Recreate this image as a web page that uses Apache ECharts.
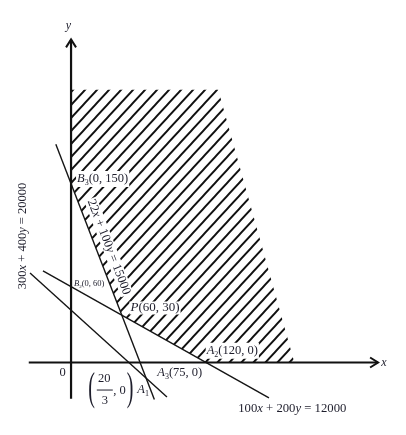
<!DOCTYPE html>
<html>
<head>
<meta charset="utf-8">
<script src="https://cdn.jsdelivr.net/npm/echarts@6/dist/echarts.min.js"></script>
<style>
  html, body { margin: 0; padding: 0; background: #fff; }
  #main { width: 406px; height: 435px; }
</style>
</head>
<body>
<div id="main"></div>
<script>
// the sketch is not to scale: values are chart units as drawn,
// picked so that the origin and P(60, 30) sit where the picture has them

// shaded feasible region, corners in order
var regionX = [0, 174, 264, 159.4, 60, 0];
var regionY = [173, 173, 0, 0, 30, 113.5];

// constraint lines, two ends each
var lineNames = ['22x + 100y = 15000', '100x + 200y = 12000', '300x + 400y = 20000'];
var lineX1 = [-18, -33.2, -48.5];
var lineY1 = [138.5, 58.1, 56.8];
var lineX2 = [98.5, 234, 113.4];
var lineY2 = [-23.5, -22.5, -21.9];

// axes: tail and arrow tip
var axisX1 = [-50, 0];
var axisY1 = [0, -23];
var axisX2 = [363, 0];
var axisY2 = [0, 205];

// texts and where they sit
var labelText = [
  '{i|y}', '{i|x}', '0',
  '{i|B}{s|3}(0, 150)', '{i|B}{s|2}(0, 60)', '{i|P}(60, 30)',
  '{i|A}{s|2}(120, 0)', '{i|A}{s|3}(75, 0)', '{i|A}{s|1}',
  '100{i|x} + 200{i|y} = 12000', '300{i|x} + 400{i|y} = 20000', '22{i|x} + 100{i|y} = 15000'
];
var labelX = [-3, 370, -10.1, 5.9, 3.5, 69.1, 159.2, 102, 78.3, 197.7, -56.8, 44.6];
var labelY = [213.5, 0, -6.7, 116.4, 49.8, 34.6, 7.5, -6.5, -17.4, -29.5, 80.3, 73.3];
var fracText = ['20', '3', ', 0'];
var fracX = 20.4, fracY = -16.2;

var ink = '#1e1e2c';
var serif = '"Liberation Serif", "Times New Roman", serif';
var labelSize = [12, 12, 12.5, 12.5, 8.5, 13, 12.5, 12.5, 12.5, 12.7, 12.5, 12.6];
var labelAlign = ['center', 'center', 'center', 'left', 'left', 'left', 'left', 'left', 'left', 'left', 'center', 'center'];
var labelRot = [0, 0, 0, 0, 0, 0, 0, 0, 0, 0, 90, -68.9];
var labelBg = [0, 0, 0, 1, 0, 1, 1, 0, 0, 0, 0, 1];

function hatchTile() {
  var w = 12, h = 13;
  var c = document.createElement('canvas');
  c.width = w; c.height = h;
  var g = c.getContext('2d');
  g.strokeStyle = '#111';
  g.lineWidth = 1.9;
  g.beginPath();
  for (var k = -1; k <= 1; k++) {
    g.moveTo(k * w - w, 2 * h);
    g.lineTo(k * w + 2 * w, -h);
  }
  g.stroke();
  return c;
}
var tile = hatchTile();

function richFor(size) {
  var sub = Math.round(size * 0.62);
  return {
    i: { fontFamily: serif, fontSize: size, fontStyle: 'italic', fill: ink },
    s: { fontFamily: serif, fontSize: sub, fill: ink, padding: [sub, 0, 0, 0] }
  };
}

var chart = echarts.init(document.getElementById('main'));

var series = [];

series.push({
  type: 'custom', z: 1, silent: true,
  data: [[0, 0]],
  renderItem: function (params, api) {
    var pts = regionX.map(function (x, i) { return api.coord([x, regionY[i]]); });
    return {
      type: 'polygon',
      shape: { points: pts },
      style: { fill: { image: tile, repeat: 'repeat' }, stroke: null }
    };
  }
});

lineNames.forEach(function (name, i) {
  series.push({
    name: name, type: 'line', z: 2, silent: true,
    symbol: 'none',
    lineStyle: { color: '#151515', width: 1.4 },
    data: [[lineX1[i], lineY1[i]], [lineX2[i], lineY2[i]]]
  });
});

series.push({
  type: 'custom', z: 3, silent: true,
  data: axisX1.map(function (x, i) { return [x, axisY1[i], axisX2[i], axisY2[i]]; }),
  encode: { x: [0, 2], y: [1, 3] },
  renderItem: function (params, api) {
    var a = api.coord([api.value(0), api.value(1)]);
    var b = api.coord([api.value(2), api.value(3)]);
    var dx = b[0] - a[0], dy = b[1] - a[1];
    var len = Math.sqrt(dx * dx + dy * dy);
    var ux = dx / len, uy = dy / len;
    var back = 8, half = 5;
    return {
      type: 'group',
      children: [
        { type: 'line', shape: { x1: a[0], y1: a[1], x2: b[0], y2: b[1] },
          style: { stroke: '#111', lineWidth: 2.2 } },
        { type: 'polyline',
          shape: { points: [
            [b[0] - ux * back - uy * half, b[1] - uy * back + ux * half],
            [b[0], b[1]],
            [b[0] - ux * back + uy * half, b[1] - uy * back - ux * half]
          ] },
          style: { stroke: '#111', lineWidth: 2, fill: null } }
      ]
    };
  }
});

series.push({
  type: 'custom', z: 4, silent: true,
  data: labelX.map(function (x, i) { return [x, labelY[i]]; }),
  renderItem: function (params, api) {
    var i = params.dataIndex;
    var p = api.coord([labelX[i], labelY[i]]);
    var size = labelSize[i];
    return {
      type: 'text',
      x: p[0], y: p[1],
      rotation: labelRot[i] * Math.PI / 180,
      style: {
        text: labelText[i],
        rich: richFor(size),
        fontFamily: serif, fontSize: size, fill: ink,
        align: labelAlign[i], verticalAlign: 'middle',
        backgroundColor: labelBg[i] ? '#fff' : null,
        padding: labelBg[i] ? [0, 1] : 0
      }
    };
  }
});

// (20/3, 0) with tall brackets
series.push({
  type: 'custom', z: 4, silent: true,
  data: [[fracX, fracY]],
  renderItem: function (params, api) {
    var p = api.coord([fracX, fracY]);
    var x = p[0], y = p[1];
    function txt(t, dx, dy, size, align, sx) {
      return { type: 'text', x: x + dx, y: y + dy, scaleX: sx || 1,
        style: { text: t, fontFamily: serif, fontSize: size, fill: ink, align: align, verticalAlign: 'middle' } };
    }
    return {
      type: 'group',
      children: [
        txt('(', 0, 1, 40, 'left', 0.5),
        txt(fracText[0], 16, -9, 12.5, 'center'),
        { type: 'line', shape: { x1: x + 8.5, y1: y + 2, x2: x + 24.5, y2: y + 2 },
          style: { stroke: ink, lineWidth: 1 } },
        txt(fracText[1], 16.5, 13, 12.5, 'center'),
        txt(fracText[2], 25, 3, 12.5, 'left'),
        txt(')', 38.5, 1, 40, 'left', 0.5)
      ]
    };
  }
});

chart.setOption({
  animation: false,
  grid: { left: 0, right: 0, top: 0, bottom: 0 },
  xAxis: { type: 'value', min: -84, max: 396, show: false },
  yAxis: { type: 'value', min: -46, max: 230, show: false },
  series: series
});
</script>
</body>
</html>
